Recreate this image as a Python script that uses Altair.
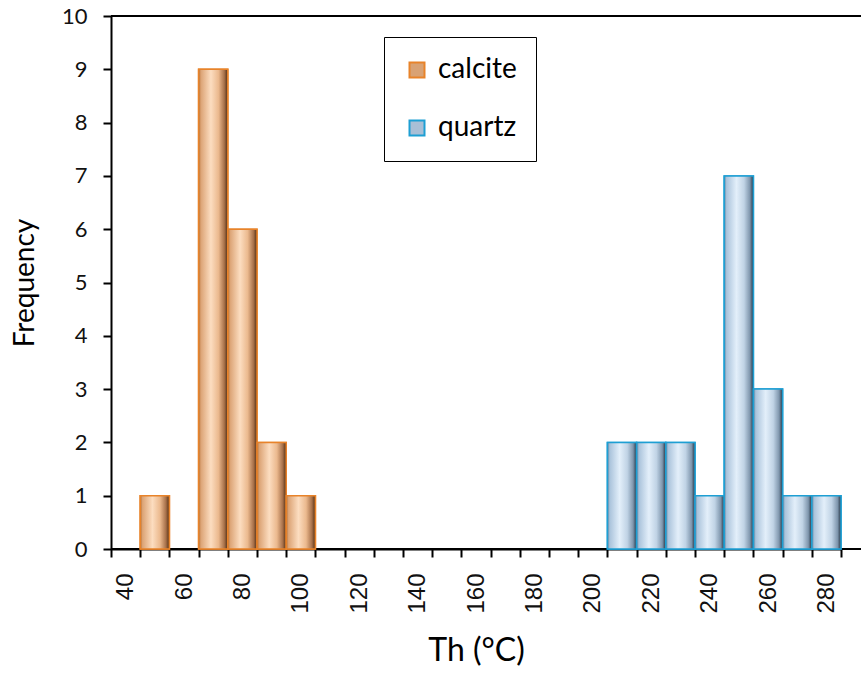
import altair as alt
import pandas as pd

# Histogram bins (°C) and counts
bins = list(range(40, 290, 10))
calcite = [0, 1, 0, 9, 6, 2, 1, 0, 0, 0, 0, 0, 0, 0, 0, 0, 0, 0, 0, 0, 0, 0, 0, 0, 0]
quartz = [0, 0, 0, 0, 0, 0, 0, 0, 0, 0, 0, 0, 0, 0, 0, 0, 0, 2, 2, 2, 1, 7, 3, 1, 1]
series = ["calcite", "quartz"]
y_ticks = list(range(0, 11))
frame_levels = [0, 10]

rows = []
for b, c, q in zip(bins, calcite, quartz):
    rows.append({"bin": b, "series": "calcite", "count": c})
    rows.append({"bin": b, "series": "quartz", "count": q})
df = pd.DataFrame(rows)

fill_colors = ["#D9A274", "#A9BFD6"]
stroke_colors = ["#E8832A", "#1E9FD3"]

x_enc = alt.X(
    "bin:O",
    scale=alt.Scale(domain=bins, paddingInner=0, paddingOuter=0),
    axis=alt.Axis(
        title="Th (°C)",
        tickBand="extent",
        labelExpr="datum.value % 20 == 0 ? datum.label : ''",
        labelAngle=270,
        labelOverlap=False,
        labelFont="Liberation Sans",
        labelFontSize=24,
        labelColor="#111111",
        labelPadding=16,
        tickSize=8,
        tickWidth=2,
        tickColor="black",
        domainColor="black",
        domainWidth=2,
        titleFont="Lato",
        titleFontSize=32,
        titleFontWeight="normal",
        titleColor="black",
        titlePadding=22,
    ),
)

y_axis = alt.Axis(
    title="Frequency",
    values=y_ticks,
    grid=False,
    labelFont="Lato",
    labelFontSize=22,
    labelColor="#111111",
    labelPadding=16,
    tickSize=8,
    tickWidth=2,
    tickColor="black",
    domainColor="black",
    domainWidth=2,
    titleFont="Lato",
    titleFontSize=28,
    titleFontWeight="normal",
    titleColor="black",
    titlePadding=22,
)
y_scale = alt.Scale(domain=[0, 10], nice=False)

legend = alt.Legend(
    title=None,
    orient="none",
    legendX=273,
    legendY=21,
    direction="vertical",
    symbolType="square",
    symbolSize=225,
    symbolStrokeWidth=2,
    labelFont="Lato",
    labelFontSize=28,
    labelColor="black",
    labelOffset=7,
    rowPadding=30,
    padding=19,
    strokeColor="black",
    fillColor="white",
    cornerRadius=0,
)


def grad(stops):
    return alt.Gradient(
        gradient="linear",
        x1=0, x2=1, y1=0, y2=0,
        stops=[alt.GradientStop(offset=o, color=c) for o, c in stops],
    )


grad_calcite = grad([
    (0.0, "#B56F33"), (0.08, "#DCA476"), (0.42, "#FCDDC0"),
    (0.68, "#EBB98E"), (0.88, "#A8714A"), (1.0, "#4E2C12"),
])
grad_quartz = grad([
    (0.0, "#5F809D"), (0.08, "#AAC3DB"), (0.42, "#E3EFFA"),
    (0.68, "#C0D3E5"), (0.88, "#7F96AD"), (1.0, "#243444"),
])

base = alt.Chart(df).encode(
    x=x_enc,
    y=alt.Y("count:Q", scale=y_scale, axis=y_axis),
)

frame = alt.Chart(pd.DataFrame({"level": frame_levels})).mark_rule(
    color="black", strokeWidth=2
).encode(
    y=alt.Y("level:Q", scale=y_scale, axis=y_axis),
    x=alt.value(0),
    x2=alt.value(750),
)

bars = base.mark_bar(strokeWidth=1.5).encode(
    fill=alt.Fill("series:N", scale=alt.Scale(domain=series, range=fill_colors), legend=legend),
    stroke=alt.Stroke("series:N", scale=alt.Scale(domain=series, range=stroke_colors), legend=legend),
).transform_filter("datum.count > 0")

shade_c = base.mark_bar(fill=grad_calcite, stroke=stroke_colors[0], strokeWidth=1.5).transform_filter(
    "datum.series == 'calcite' && datum.count > 0"
)
shade_q = base.mark_bar(fill=grad_quartz, stroke=stroke_colors[1], strokeWidth=1.5).transform_filter(
    "datum.series == 'quartz' && datum.count > 0"
)

chart = alt.layer(frame, bars, shade_c, shade_q).properties(
    width=730,
    height=533,
    autosize=alt.AutoSizeParams(type="none"),
    padding={"left": 111, "top": 16, "right": 20, "bottom": 126},
    background="white",
).configure_view(stroke=None)

chart.save("out.html", embed_options={"renderer": "svg", "actions": False})
